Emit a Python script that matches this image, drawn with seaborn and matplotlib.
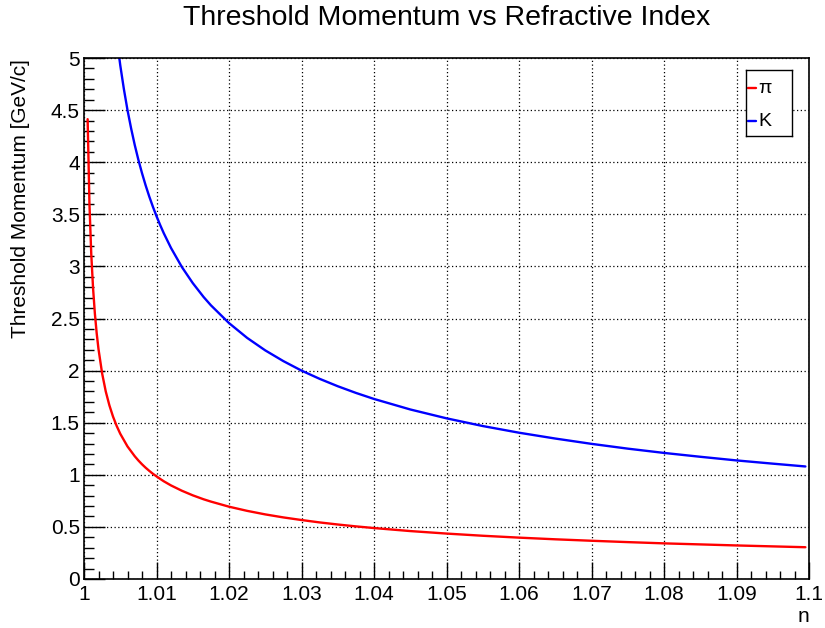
import matplotlib
matplotlib.use("Agg")
import matplotlib.pyplot as plt
from matplotlib.ticker import MultipleLocator, FixedFormatter, FixedLocator
import seaborn as sns
import pandas as pd

# refractive index samples
n_pi = [1.0005, 1.00075, 1.001, 1.00125, 1.0015, 1.00175, 1.002, 1.0025, 1.003, 1.0035,
        1.004, 1.0045, 1.005, 1.006, 1.007, 1.0075, 1.008, 1.0085, 1.009, 1.0095, 1.01,
        1.0105, 1.011, 1.012, 1.0135, 1.015, 1.0165, 1.0175, 1.02, 1.0225, 1.025, 1.0275,
        1.03, 1.0325, 1.035, 1.0375, 1.04, 1.045, 1.05, 1.055, 1.06, 1.065, 1.07, 1.075,
        1.08, 1.085, 1.09, 1.095, 1.0995]
p_pi = [4.413, 3.603, 3.120, 2.791, 2.547, 2.358, 2.206, 1.973, 1.800, 1.667,
        1.559, 1.470, 1.394, 1.272, 1.178, 1.1375, 1.101, 1.068, 1.038, 1.010, 0.985,
        0.961, 0.938, 0.898, 0.847, 0.803, 0.765, 0.743, 0.694, 0.654, 0.620, 0.591,
        0.566, 0.543, 0.523, 0.505, 0.489, 0.460, 0.436, 0.415, 0.397, 0.381, 0.367, 0.354,
        0.342, 0.332, 0.322, 0.313, 0.305]

n_k = [1.0045, 1.005, 1.0055, 1.006, 1.0065, 1.007, 1.0075, 1.008, 1.0085, 1.009,
       1.0095, 1.01, 1.0105, 1.011, 1.012, 1.0135, 1.015, 1.0165, 1.0175, 1.02, 1.0225,
       1.025, 1.0275, 1.03, 1.0325, 1.035, 1.0375, 1.04, 1.045, 1.05, 1.055, 1.06, 1.065,
       1.07, 1.075, 1.08, 1.085, 1.09, 1.095, 1.0995]
p_k = [5.198, 4.931, 4.702, 4.500, 4.324, 4.165, 4.023, 3.895, 3.778, 3.671,
       3.573, 3.482, 3.398, 3.319, 3.177, 2.994, 2.840, 2.706, 2.627, 2.456, 2.314,
       2.194, 2.091, 2.000, 1.921, 1.850, 1.786, 1.728, 1.627, 1.542, 1.468, 1.404, 1.348,
       1.297, 1.251, 1.210, 1.173, 1.138, 1.107, 1.080]

labels = ["\u03c0", "K"]
colors = ["#ff0000", "#0000ff"]

df = pd.concat([
    pd.DataFrame({"n": n_pi, "p": p_pi, "particle": labels[0]}),
    pd.DataFrame({"n": n_k, "p": p_k, "particle": labels[1]}),
], ignore_index=True)

sns.set_style("ticks")
plt.rcParams["font.family"] = ["Liberation Sans", "DejaVu Sans"]
plt.rcParams["text.color"] = "black"

fig = plt.figure(figsize=(8.25, 6.28), dpi=100)
ax = fig.add_axes([84 / 825, 1 - 579 / 628, (809 - 84) / 825, (579 - 58) / 628])

sns.lineplot(data=df, x="n", y="p", hue="particle", palette=colors, sort=False,
             estimator=None, linewidth=1.7, ax=ax, legend=False)

ax.set_xlim(1.0, 1.1)
ax.set_ylim(0, 5)

xt = [1.0, 1.01, 1.02, 1.03, 1.04, 1.05, 1.06, 1.07, 1.08, 1.09, 1.1]
xtl = ["1", "1.01", "1.02", "1.03", "1.04", "1.05", "1.06", "1.07", "1.08", "1.09", "1.1"]
yt = [0, 0.5, 1, 1.5, 2, 2.5, 3, 3.5, 4, 4.5, 5]
ytl = ["0", "0.5", "1", "1.5", "2", "2.5", "3", "3.5", "4", "4.5", "5"]
ax.xaxis.set_major_locator(FixedLocator(xt))
ax.xaxis.set_major_formatter(FixedFormatter(xtl))
ax.yaxis.set_major_locator(FixedLocator(yt))
ax.yaxis.set_major_formatter(FixedFormatter(ytl))
ax.xaxis.set_minor_locator(MultipleLocator(0.002))
ax.yaxis.set_minor_locator(MultipleLocator(0.1))

ax.tick_params(which="both", direction="in", width=1, labelsize=15,
               color="black", labelcolor="black")
ax.tick_params(axis="x", which="major", length=12.5, pad=4.5)
ax.tick_params(axis="x", which="minor", length=5.5)
ax.tick_params(axis="y", which="major", length=15, pad=3)
ax.tick_params(axis="y", which="minor", length=7)

ax.grid(True, which="major", linestyle=(0, (1, 2)), color="black", linewidth=0.9)
for s in ax.spines.values():
    s.set_visible(True)
    s.set_color("black")
    s.set_linewidth(1.2)

ax.set_xlabel("")
ax.set_ylabel("")
fig.text(809 / 825, 1 - 616 / 628, "n", ha="right", va="center", fontsize=15,
         color="black")
fig.text(21 / 825, 1 - 59 / 628, "Threshold Momentum [GeV/c]", rotation=90,
         ha="center", va="top", fontsize=15, color="black")
fig.text(447 / 825, 1 - 18 / 628, "Threshold Momentum vs Refractive Index",
         ha="center", va="center", fontsize=20.5, color="black")

# legend box
lax = fig.add_axes([746 / 825, 1 - 136 / 628, (792 - 746) / 825, (136 - 70) / 628])
lax.set_xlim(0, 1)
lax.set_ylim(0, 1)
lax.set_xticks([])
lax.set_yticks([])
for s in lax.spines.values():
    s.set_color("black")
    s.set_linewidth(1)
for yy, lab, c in zip([0.727, 0.227], labels, colors):
    lax.plot([0.04, 0.22], [yy, yy], color=c, linewidth=1.7)
    lax.text(0.26, yy, lab, ha="left", va="center", fontsize=14, color="black")

fig.savefig("out.png", dpi=100)
